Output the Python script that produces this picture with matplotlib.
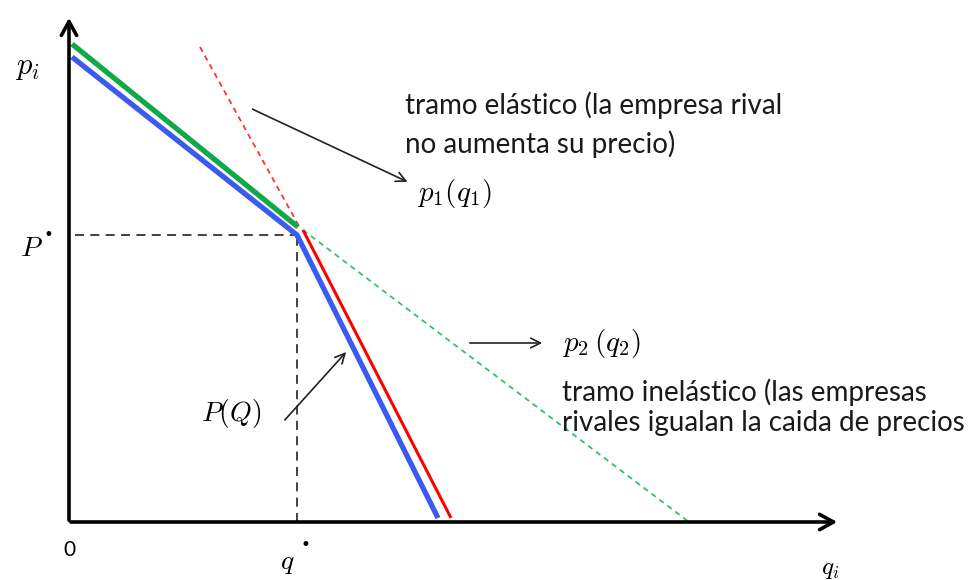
import matplotlib
matplotlib.use("Agg")
import matplotlib.pyplot as plt

plt.rcParams['mathtext.fontset'] = 'cm'

# Kinked demand diagram, coordinates (q, p) measured from the origin
green_q = [3, 229]          # elastic branch p1(q1), thick part
green_p = [478, 295]
blue_q = [3, 228, 369]      # P(Q) kinked demand
blue_p = [465, 287, 4]
red_q = [234, 382]          # inelastic branch, solid part
red_p = [292, 4]
red_dash_q = [131, 231]     # extension of p1 above the kink
red_dash_p = [475, 294]
green_dash_q = [234, 620]   # extension of p2 below the kink
green_dash_p = [292, 0]
p_star = 287
q_star = 228
q_axis_end = 771
p_axis_end = 507

fig = plt.figure(figsize=(9.78, 5.8), dpi=100)
ax = fig.add_axes([0, 0, 1, 1])
ax.set_xlim(-69, 909)
ax.set_ylim(-58, 522)
ax.axis('off')

# axes with open arrowheads
ax.annotate('', xy=(q_axis_end, 0), xytext=(-1, 0),
            arrowprops=dict(arrowstyle='->,head_length=1.0,head_width=0.55', lw=2.6, color='black'))
ax.annotate('', xy=(0, p_axis_end), xytext=(0, -1),
            arrowprops=dict(arrowstyle='->,head_length=1.0,head_width=0.55', lw=2.6, color='black'))

# guide lines at the kink
ax.plot([6, q_star], [p_star, p_star], color='#333333', lw=1.3, ls=(0, (5, 3.5)))
ax.plot([q_star, q_star], [0, p_star], color='#333333', lw=1.3, ls=(0, (5, 3.5)))

# dashed extensions
ax.plot(red_dash_q, red_dash_p, color='#ff3030', lw=1.3, ls=(0, (3, 2.5)))
ax.plot(green_dash_q, green_dash_p, color='#2ec36a', lw=1.3, ls=(0, (3, 2.5)))

# demand curves
ax.plot(green_q, green_p, color='#10a848', lw=3.8, solid_capstyle='butt')
ax.plot(blue_q, blue_p, color='#3a5af0', lw=3.8, solid_capstyle='butt')
ax.plot(red_q, red_p, color='#ff0000', lw=2.2, solid_capstyle='butt')

# axis labels
ax.text(-42, 455, r'$p_i$', fontsize=22, ha='center', va='center')
ax.text(-38, 274, r'$P$', fontsize=20, ha='center', va='center')
ax.text(-21, 287, '•', fontsize=12, ha='center', va='center')
ax.text(q_star - 10, -40, r'$q$', fontsize=20, ha='center', va='center')
ax.text(q_star + 8, -23, '•', fontsize=12, ha='center', va='center')
ax.text(0, -28, '0', fontsize=15, ha='center', va='center', family='Lato')
ax.text(q_axis_end - 10, -47, r'$q_i$', fontsize=18, ha='center', va='center')

# annotations
ax.text(162, 109, r'$P(Q)$', fontsize=20, ha='center', va='center')
ax.annotate('', xy=(279, 172), xytext=(214, 100),
            arrowprops=dict(arrowstyle='->,head_length=0.7,head_width=0.35', lw=1.2, color='#222222'))

ax.annotate('', xy=(341, 339), xytext=(181, 414),
            arrowprops=dict(arrowstyle='->,head_length=0.7,head_width=0.35', lw=1.2, color='#222222'))
ax.text(348, 329, r'$p_1(q_1)$', fontsize=21, ha='left', va='center')
ax.text(336, 417, 'tramo elástico (la empresa rival', fontsize=20, ha='left', va='center',
        family='Lato', color='#1a1a1a')
ax.text(336, 378, 'no aumenta su precio)', fontsize=20, ha='left', va='center',
        family='Lato', color='#1a1a1a')

ax.annotate('', xy=(476, 179), xytext=(398, 179),
            arrowprops=dict(arrowstyle='->,head_length=0.7,head_width=0.35', lw=1.2, color='#222222'))
ax.text(493, 178, r'$p_2\,(q_2)$', fontsize=21, ha='left', va='center')
ax.text(493, 130, 'tramo inelástico (las empresas', fontsize=20, ha='left', va='center',
        family='Lato', color='#1a1a1a')
ax.text(493, 99, 'rivales igualan la caida de precios', fontsize=20, ha='left', va='center',
        family='Lato', color='#1a1a1a')

fig.savefig('out.png', dpi=100)
